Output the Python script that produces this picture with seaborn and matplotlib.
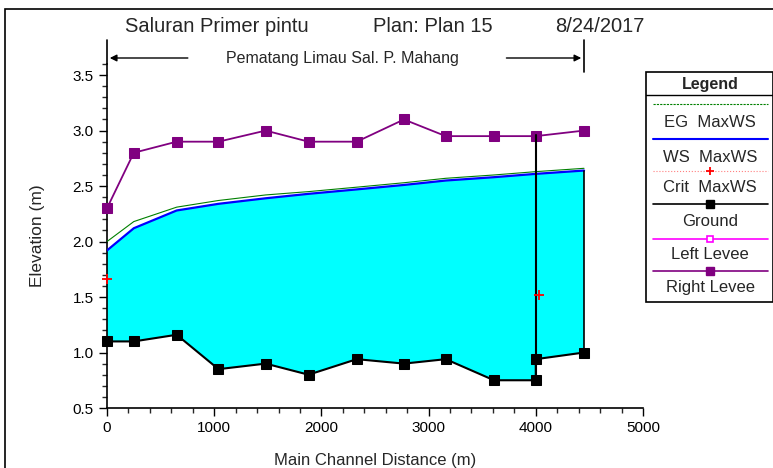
import numpy as np
import pandas as pd
import matplotlib
matplotlib.use("Agg")
import matplotlib.pyplot as plt
import seaborn as sns
from matplotlib.patches import Rectangle
from matplotlib.ticker import MultipleLocator

# Profile data
station = [0, 250, 650, 1040, 1480, 1880, 2330, 2770, 3160, 3610, 4000, 4450]
ws_elev = [1.92, 2.12, 2.28, 2.34, 2.39, 2.43, 2.47, 2.51, 2.55, 2.58, 2.61, 2.64]
eg_elev = [2.00, 2.18, 2.31, 2.37, 2.42, 2.45, 2.49, 2.53, 2.57, 2.60, 2.63, 2.66]
right_levee = [2.30, 2.80, 2.90, 2.90, 3.00, 2.90, 2.90, 3.10, 2.95, 2.95, 2.95, 3.00]

ground_x = [0, 250, 650, 1040, 1480, 1880, 2330, 2770, 3160, 3610, 4000, 4000, 4450]
ground_y = [1.10, 1.10, 1.16, 0.85, 0.90, 0.80, 0.94, 0.90, 0.94, 0.75, 0.75, 0.94, 1.00]

crit_x = [0, 4030]
crit_y = [1.66, 1.52]

structure_x = 4000
structure_top = 2.96

ws_df = pd.DataFrame({"x": station, "ws": ws_elev, "eg": eg_elev, "levee": right_levee})
ground_df = pd.DataFrame({"x": ground_x, "y": ground_y})

sns.set_style("ticks")
plt.rcParams["font.family"] = ["Liberation Sans", "DejaVu Sans"]

fig = plt.figure(figsize=(7.73, 4.68), dpi=100)
ax = fig.add_axes([107 / 773, 1 - 408 / 468, 536 / 773, (408 - 64) / 468])

# water fill between ground and water surface
poly_x = list(ground_x) + station[::-1]
poly_y = list(ground_y) + ws_elev[::-1]
ax.fill(poly_x, poly_y, color="#00FFFF", lw=0, zorder=1)

sns.lineplot(data=ws_df, x="x", y="eg", ax=ax, color="#008000", lw=0.8,
             estimator=None, sort=False, zorder=3)
sns.lineplot(data=ws_df, x="x", y="ws", ax=ax, color="#0000FF", lw=1.6,
             estimator=None, sort=False, zorder=4)
sns.lineplot(data=ground_df, x="x", y="y", ax=ax, color="black", lw=1.5,
             marker="s", markersize=6.5, markeredgecolor="black",
             estimator=None, sort=False, zorder=5, clip_on=False)
sns.lineplot(data=ws_df, x="x", y="levee", ax=ax, color="#800080", lw=1.3,
             marker="s", markersize=6.5, markeredgecolor="#800080",
             estimator=None, sort=False, zorder=5, clip_on=False)
ax.plot(crit_x, crit_y, ls="none", marker="+", color="red", ms=7, mew=1.3, zorder=6, clip_on=False)

# structure line and right end
ax.plot([structure_x, structure_x], [min(ground_y), structure_top], color="black", lw=1.5, zorder=5)
ax.plot([station[-1], station[-1]], [ground_y[-1], ws_elev[-1]], color="black", lw=1.2, zorder=5)

ax.set_xlim(0, 5000)
ax.set_ylim(0.5, 3.6)
ax.xaxis.set_major_locator(MultipleLocator(1000))
ax.xaxis.set_minor_locator(MultipleLocator(200))
ax.yaxis.set_minor_locator(MultipleLocator(0.1))
ax.set_yticks([0.5, 1.0, 1.5, 2.0, 2.5, 3.0, 3.5])
ax.set_yticklabels(["0.5", "1.0", "1.5", "2.0", "2.5", "3.0", "3.5"])
ax.tick_params(axis="both", which="major", direction="out", length=6, width=1, labelsize=11, colors="black")
ax.tick_params(axis="both", which="minor", direction="out", length=3.5, width=1)
for s in ["top", "right"]:
    ax.spines[s].set_visible(False)
for s in ["left", "bottom"]:
    ax.spines[s].set_color("black")
    ax.spines[s].set_linewidth(1.2)
ax.set_xlabel("Main Channel Distance (m)", fontsize=12, labelpad=13)
ax.set_ylabel("Elevation (m)", fontsize=12.5, labelpad=20)

# title and reach bracket
ty = 1 - 27 / 468
fig.text(125 / 773, ty, "Saluran Primer pintu", ha="left", va="center", fontsize=14.5)
fig.text(373 / 773, ty, "Plan: Plan 15", ha="left", va="center", fontsize=14.5)
fig.text(555 / 773, ty, "8/24/2017", ha="left", va="center", fontsize=14.5)

trans = ax.get_xaxis_transform()
y_br = 1 + (64 - 58) / 344
y_top = 1 + (64 - 40) / 344
ax.plot([0, 0], [y_top, 1], transform=trans, color="black", lw=1.2, clip_on=False)
ax.plot([4450, 4450], [y_top, 1 - (72 - 64) / 344], transform=trans, color="black", lw=1.2, clip_on=False)
ax.annotate("", xy=(0, y_br), xytext=(780, y_br), xycoords=trans, textcoords=trans,
            arrowprops=dict(arrowstyle="-|>", color="black", lw=1, mutation_scale=10))
ax.annotate("", xy=(4450, y_br), xytext=(3700, y_br), xycoords=trans, textcoords=trans,
            arrowprops=dict(arrowstyle="-|>", color="black", lw=1, mutation_scale=10))
ax.text(2200, y_br, "Pematang Limau Sal. P. Mahang", transform=trans, ha="center", va="center", fontsize=11.5)

# legend panel
lg = fig.add_axes([646 / 773, 1 - 302 / 468, (773 - 646) / 773, (302 - 72) / 468])
lg.set_xlim(646, 773)
lg.set_ylim(302, 72)
lg.axis("off")
lg.add_patch(Rectangle((646, 72), 126.5, 230, fill=False, ec="black", lw=1.2, clip_on=False))
lg.plot([646, 773], [95, 95], color="black", lw=1)
lg.text(710, 84, "Legend", ha="center", va="center", fontsize=11.5, fontweight="bold")
entries = [
    ("EG  MaxWS", dict(color="#008000", lw=0.8, ls=(0, (2, 1))), 104, 122, None),
    ("WS  MaxWS", dict(color="#0000FF", lw=1.5), 139, 157, None),
    ("Crit  MaxWS", dict(color="#FF8080", lw=0.8, ls=":"), 171, 187, dict(marker="+", color="red", ms=6, mew=1.3)),
    ("Ground", dict(color="black", lw=1.2), 204, 221, dict(marker="s", color="black", ms=6)),
    ("Left Levee", dict(color="#FF00FF", lw=1.2), 239, 254, dict(marker="s", mfc="white", mec="#FF00FF", ms=5, mew=1.2)),
    ("Right Levee", dict(color="#800080", lw=1.2), 271, 287, dict(marker="s", color="#800080", ms=6)),
]
for label, lstyle, ly, tly, mk in entries:
    lg.plot([653, 768], [ly, ly], **lstyle)
    if mk is not None:
        lg.plot([710], [ly], ls="none", **mk)
    lg.text(710, tly, label, ha="center", va="center", fontsize=12)

# outer frame
fig.patches.append(Rectangle((5 / 773, -0.1), 1.2, 1.1 - 9 / 468, transform=fig.transFigure,
                             fill=False, ec="black", lw=1.2))

fig.savefig("out.png", dpi=100)
